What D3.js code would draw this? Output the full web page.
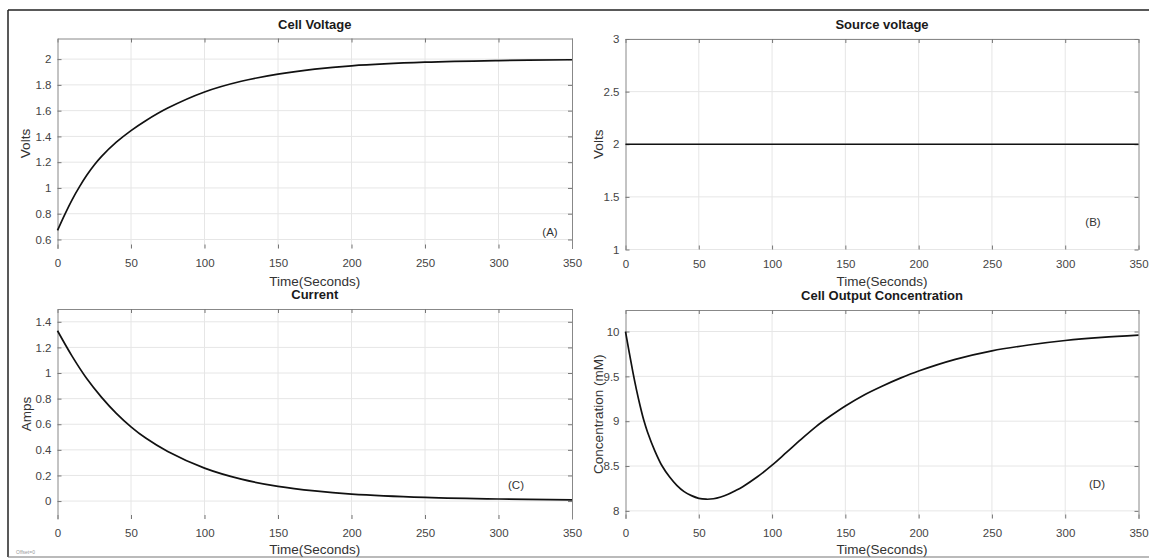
<!DOCTYPE html>
<html>
<head>
<meta charset="utf-8">
<script src="https://cdn.jsdelivr.net/npm/d3@7"></script>
<style>
  body { margin: 0; background: #fff; }
  svg { display: block; font-family: "Liberation Sans", Arial, sans-serif; }
  .tick text { fill: #444; font-size: 11.5px; }
  .tick line { stroke: #777; }
  .domain { stroke: #888; }
</style>
</head>
<body>
<div id="chart"></div>
<script>
const width = 1149;
const height = 560;

// time axis shared by all four panels
const timeTicks = [0, 50, 100, 150, 200, 250, 300, 350];

// (A) cell voltage
const voltTime = [0, 5, 10, 15, 20, 25, 30, 40, 50, 60, 75, 100, 125, 150, 175, 200, 250, 300, 350];
const cellVolts = [0.67, 0.795, 0.91, 1.01, 1.1, 1.178, 1.245, 1.355, 1.445, 1.522, 1.62, 1.745, 1.828, 1.883, 1.922, 1.948, 1.976, 1.989, 1.995];
const voltTicks = [0.6, 0.8, 1, 1.2, 1.4, 1.6, 1.8, 2];

// (B) source voltage
const sourceTime = [0, 350];
const sourceVolts = [2, 2];
const sourceTicks = [1, 1.5, 2, 2.5, 3];

// (C) current
const ampTime = [0, 10, 20, 30, 40, 50, 60, 75, 100, 125, 150, 175, 200, 250, 300, 350];
const amps = [1.33, 1.13, 0.955, 0.81, 0.685, 0.58, 0.492, 0.387, 0.257, 0.171, 0.115, 0.079, 0.055, 0.029, 0.016, 0.01];
const ampTicks = [0, 0.2, 0.4, 0.6, 0.8, 1, 1.2, 1.4];

// (D) cell output concentration
const concTime = [0, 2.5, 5, 7.5, 10, 12.5, 15, 20, 25, 30, 35, 40, 45, 50, 55, 60, 65, 70, 75, 80, 90, 100, 110, 120, 130, 140, 150, 162.5, 175, 187.5, 200, 225, 250, 275, 300, 325, 350];
const conc = [10.0, 9.77, 9.55, 9.35, 9.17, 9.01, 8.88, 8.67, 8.5, 8.38, 8.285, 8.215, 8.17, 8.14, 8.13, 8.135, 8.155, 8.185, 8.225, 8.27, 8.38, 8.51, 8.655, 8.8, 8.94, 9.06, 9.17, 9.29, 9.39, 9.48, 9.56, 9.69, 9.785, 9.85, 9.9, 9.935, 9.96];
const concTicks = [8, 8.5, 9, 9.5, 10];

const panels = [
  { title: "Cell Voltage", ylabel: "Volts", tag: "(A)", x0: 57.5, x1: 572, y0: 38.5, y1: 248.5,
    ydom: [0.53, 2.16], yticks: voltTicks, t: voltTime, v: cellVolts, tagPos: [550, 232], labX: 25,
    xlabY: 281 },
  { title: "Source voltage", ylabel: "Volts", tag: "(B)", x0: 625.5, x1: 1138.5, y0: 39, y1: 249.5,
    ydom: [1, 3], yticks: sourceTicks, t: sourceTime, v: sourceVolts, tagPos: [1093, 222], labX: 598,
    xlabY: 281 },
  { title: "Current", ylabel: "Amps", tag: "(C)", x0: 57.5, x1: 572, y0: 309, y1: 519,
    ydom: [-0.14, 1.5], yticks: ampTicks, t: ampTime, v: amps, tagPos: [516, 485], labX: 26,
    xlabY: 549 },
  { title: "Cell Output Concentration", ylabel: "Concentration (mM)", tag: "(D)", x0: 625.5, x1: 1138.5, y0: 310, y1: 518.5,
    ydom: [7.915, 10.24], yticks: concTicks, t: concTime, v: conc, tagPos: [1097, 484], labX: 598,
    xlabY: 549 }
];

const svg = d3.select("#chart").append("svg")
  .attr("width", width)
  .attr("height", height);

const fmt = (d) => String(+d.toFixed(2));

panels.forEach((p) => {
  const x = d3.scaleLinear().domain([0, 350]).range([p.x0, p.x1]);
  const y = d3.scaleLinear().domain(p.ydom).range([p.y1, p.y0]);
  const g = svg.append("g");

  // grid
  g.append("g").selectAll("line").data(timeTicks.slice(1, -1)).join("line")
    .attr("x1", (d) => x(d)).attr("x2", (d) => x(d))
    .attr("y1", p.y0).attr("y2", p.y1)
    .attr("stroke", "#e6e6e6");
  g.append("g").selectAll("line").data(p.yticks).join("line")
    .attr("x1", p.x0).attr("x2", p.x1)
    .attr("y1", (d) => y(d)).attr("y2", (d) => y(d))
    .attr("stroke", "#e6e6e6");

  // axes, ticks pointing inward like matlab
  const bottom = g.append("g").attr("transform", `translate(0,${p.y1})`)
    .call(d3.axisBottom(x).tickValues(timeTicks).tickSize(-4).tickPadding(10).tickFormat(fmt));
  bottom.select(".domain").remove();

  g.append("g").attr("transform", `translate(0,${p.y0})`)
    .call(d3.axisTop(x).tickValues(timeTicks).tickSize(-4).tickSizeOuter(0).tickFormat(""));
  g.append("g").attr("transform", `translate(${p.x0},0)`)
    .call(d3.axisLeft(y).tickValues(p.yticks).tickSize(-4).tickSizeOuter(0).tickPadding(6).tickFormat(fmt));
  g.append("g").attr("transform", `translate(${p.x1},0)`)
    .call(d3.axisRight(y).tickValues(p.yticks).tickSize(-4).tickSizeOuter(0).tickFormat(""));

  // the curve
  const pts = p.t.map((t, i) => [t, p.v[i]]);
  g.append("path")
    .datum(pts)
    .attr("fill", "none")
    .attr("stroke", "#111")
    .attr("stroke-width", 1.7)
    .attr("d", d3.line().x((d) => x(d[0])).y((d) => y(d[1])).curve(d3.curveCatmullRom));

  // texts
  g.append("text")
    .attr("x", (p.x0 + p.x1) / 2).attr("y", p.y0 - 10)
    .attr("text-anchor", "middle")
    .attr("font-weight", "bold").attr("font-size", 13).attr("fill", "#1a1a1a")
    .text(p.title);
  g.append("text")
    .attr("x", (p.x0 + p.x1) / 2).attr("y", p.xlabY + 5)
    .attr("text-anchor", "middle")
    .attr("font-size", 13.5).attr("fill", "#333")
    .text("Time(Seconds)");
  g.append("text")
    .attr("transform", `translate(${p.labX},${(p.y0 + p.y1) / 2}) rotate(-90)`)
    .attr("text-anchor", "middle").attr("dy", "0.35em")
    .attr("font-size", 13.5).attr("fill", "#333")
    .text(p.ylabel);
  g.append("text")
    .attr("x", p.tagPos[0]).attr("y", p.tagPos[1])
    .attr("text-anchor", "middle").attr("dy", "0.35em")
    .attr("font-size", 11.5).attr("fill", "#333")
    .text(p.tag);
});

// outer frame of the figure
svg.append("line").attr("x1", 8).attr("x2", width).attr("y1", 10).attr("y2", 10)
  .attr("stroke", "#222").attr("stroke-width", 1.5);
svg.append("line").attr("x1", 8).attr("x2", 8).attr("y1", 10).attr("y2", 557)
  .attr("stroke", "#222").attr("stroke-width", 1.5);
svg.append("line").attr("x1", 8).attr("x2", width).attr("y1", 557).attr("y2", 557)
  .attr("stroke", "#777").attr("stroke-width", 1.2);

svg.append("text")
  .attr("x", 16).attr("y", 554)
  .attr("font-size", 5).attr("fill", "#999")
  .text("Offset=0");
</script>
</body>
</html>
